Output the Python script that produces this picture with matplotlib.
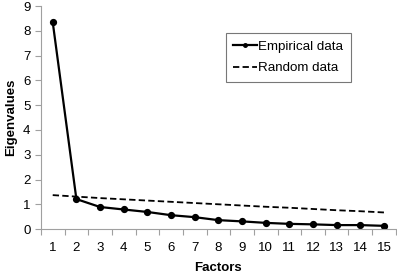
import matplotlib
matplotlib.use("Agg")
import matplotlib.pyplot as plt
import numpy as np

factors = list(range(1, 16))
empirical = [8.35, 1.21, 0.89, 0.79, 0.69, 0.56, 0.48, 0.36, 0.31, 0.25, 0.21, 0.19, 0.16, 0.16, 0.13]
random_data = [1.37, 1.31, 1.25, 1.20, 1.15, 1.10, 1.05, 1.00, 0.95, 0.90, 0.86, 0.81, 0.76, 0.72, 0.67]
yticks = list(range(0, 10))

plt.rcParams['font.family'] = ['Liberation Sans', 'DejaVu Sans']
fig = plt.figure(figsize=(3.97, 2.74), dpi=100)
ax = fig.add_axes([0.103, 0.164, 0.894, 0.814])

ax.plot(factors, empirical, color='black', lw=1.6, marker='o', ms=4.2, label='Empirical data')
ax.plot(factors, random_data, color='black', lw=1.3, ls=(0, (3.5, 1.8)), label='Random data')

ax.set_xlim(0.5, 15.5)
ax.set_ylim(0, 9)
ax.set_yticks(yticks)
ax.set_xticks(factors)
ax.set_xticks(np.arange(0.5, 16, 1), minor=True)
ax.tick_params(axis='x', which='major', length=0, labelsize=9.5, pad=9)
ax.tick_params(axis='x', which='minor', length=4, color='#a0a0a0', width=0.8)
ax.tick_params(axis='y', length=4, color='#a0a0a0', width=0.8, labelsize=9.5)
for s in ['top', 'right']:
    ax.spines[s].set_visible(False)
for s in ['left', 'bottom']:
    ax.spines[s].set_color('#a0a0a0')
    ax.spines[s].set_linewidth(0.8)

ax.set_xlabel('Factors', fontweight='bold', fontsize=9.5, labelpad=6)
ax.set_ylabel('Eigenvalues', fontweight='bold', fontsize=9.5, labelpad=4)

leg = ax.legend(loc='upper left', bbox_to_anchor=(0.521, 0.879), borderaxespad=0,
                fontsize=9.6, frameon=True, fancybox=False, edgecolor='#555555',
                handlelength=1.8, handletextpad=0.1, borderpad=0.55, labelspacing=0.7,
                markerscale=0.6)
leg.get_frame().set_linewidth(0.8)

fig.savefig('out.png', dpi=100)
